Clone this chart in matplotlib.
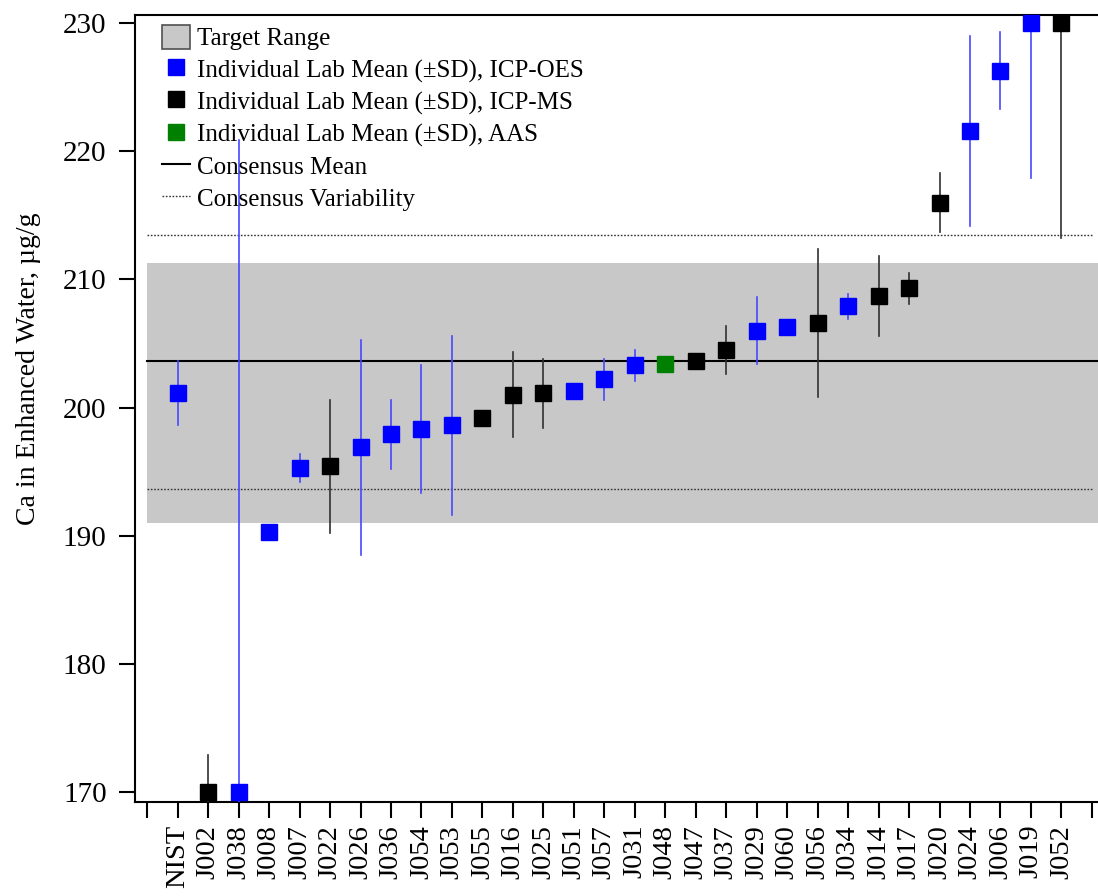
#!/usr/bin/env python3
import matplotlib
matplotlib.use("Agg")
import matplotlib.pyplot as plt
from matplotlib import rcParams
from matplotlib.lines import Line2D
from matplotlib.patches import Patch

# lab codes in plotting order (position 0 and 31 are empty ticks)
labs = ["NIST", "J002", "J038", "J008", "J007", "J022", "J026", "J036", "J054", "J053",
        "J055", "J016", "J025", "J051", "J057", "J031", "J048", "J047", "J037", "J029",
        "J060", "J056", "J034", "J014", "J017", "J020", "J024", "J006", "J019", "J052"]
means = [201.1, 170.0, 170.0, 190.3, 195.3, 195.4, 196.9, 197.9, 198.3, 198.6,
         199.2, 201.0, 201.1, 201.3, 202.2, 203.3, 203.4, 203.6, 204.5, 206.0,
         206.3, 206.6, 207.9, 208.7, 209.3, 216.0, 221.6, 226.3, 230.0, 230.0]
sds = [2.5, 2.9, 50.9, 0.3, 1.1, 5.2, 8.4, 2.7, 5.0, 7.0,
       0.4, 3.3, 2.7, 0.4, 1.6, 1.2, 0.3, 0.5, 1.9, 2.6,
       0.4, 5.8, 1.0, 3.1, 1.2, 2.3, 7.4, 3.0, 12.1, 16.8]
methods = ["OES", "MS", "OES", "OES", "OES", "MS", "OES", "OES", "OES", "OES",
           "MS", "MS", "MS", "OES", "OES", "OES", "AAS", "MS", "MS", "OES",
           "OES", "MS", "OES", "MS", "MS", "MS", "OES", "OES", "OES", "MS"]

consensus_mean = 203.6
consensus_var = (193.65, 213.45)
target_range = (191.0, 211.3)


def main():
    rcParams["font.family"] = ["Liberation Serif", "DejaVu Serif"]

    marker_color = {"OES": "#0000ff", "MS": "#000000", "AAS": "#008000"}
    bar_color = {"OES": "#4848ff", "MS": "#303030", "AAS": "#008000"}

    fig = plt.figure(figsize=(10.98, 8.96), dpi=100)
    ax = fig.add_axes([0.123, 0.105, 0.877, 0.878])

    x_right = 31.2
    ax.fill_between([0, x_right], target_range[0], target_range[1],
                    color="#c8c8c8", lw=0, zorder=1)
    ax.plot([0, x_right], [consensus_mean] * 2, color="black", lw=1.5, zorder=2)
    for v in consensus_var:
        ax.plot([0, x_right - 0.2], [v, v], color="#333333", lw=1.0,
                linestyle=(0, (1.2, 1.2)), zorder=2)

    for i, (m, s, meth) in enumerate(zip(means, sds, methods)):
        x = i + 1
        ax.plot([x, x], [m - s, m + s], color=bar_color[meth], lw=1.2, zorder=3)
        ax.plot(x, m, marker="s", ms=12, color=marker_color[meth],
                mec=marker_color[meth], linestyle="none", zorder=4, clip_on=False)

    ax.set_xlim(-0.4, x_right)
    ax.set_ylim(169.22, 230.62)
    ax.set_xticks(range(0, len(labs) + 2))
    ax.set_xticklabels([""] + labs + [""], rotation=90, fontsize=20.5)
    ax.set_yticks(range(170, 231, 10))
    ax.tick_params(axis="y", labelsize=21, pad=9)
    ax.tick_params(axis="x", pad=5)
    ax.tick_params(direction="out", length=11.5, width=1.5)
    ax.set_ylabel("Ca in Enhanced Water, µg/g", fontsize=20)
    ax.yaxis.set_label_coords(-0.098, 0.55)

    for side in ("left", "bottom", "top"):
        ax.spines[side].set_linewidth(1.5)
    ax.spines["right"].set_visible(False)

    handles = [
        Patch(facecolor="#c8c8c8", edgecolor="#505050", lw=1.2),
        Line2D([], [], marker="s", ms=11, color="#0000ff", linestyle="none"),
        Line2D([], [], marker="s", ms=11, color="#000000", linestyle="none"),
        Line2D([], [], marker="s", ms=11, color="#008000", linestyle="none"),
        Line2D([], [], color="black", lw=1.5),
        Line2D([], [], color="#333333", lw=1.0, linestyle=(0, (1.2, 1.2))),
    ]
    labels = ["Target Range",
              "Individual Lab Mean (±SD), ICP-OES",
              "Individual Lab Mean (±SD), ICP-MS",
              "Individual Lab Mean (±SD), AAS",
              "Consensus Mean",
              "Consensus Variability"]
    ax.legend(handles, labels, loc="upper left", bbox_to_anchor=(0.028, 0.988),
              frameon=False, fontsize=18, borderpad=0, borderaxespad=0,
              handlelength=1.1, handleheight=1.1, handletextpad=0.3,
              labelspacing=0.26)

    fig.savefig("out.png", dpi=100)


if __name__ == "__main__":
    main()
